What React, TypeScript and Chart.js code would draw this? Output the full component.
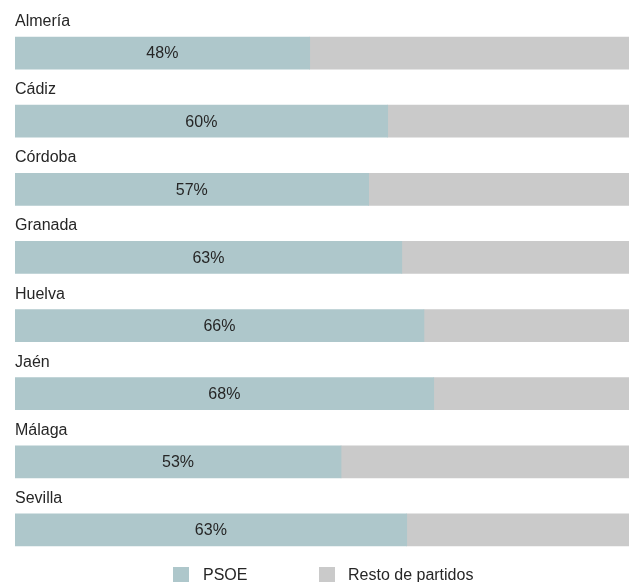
import React, { useEffect, useRef } from "react";
import { Chart, registerables } from "chart.js";

Chart.register(...registerables);

const provinces = ["Almería", "Cádiz", "Córdoba", "Granada", "Huelva", "Jaén", "Málaga", "Sevilla"];
const psoe = [48.0, 60.7, 57.6, 63.0, 66.6, 68.2, 53.1, 63.8];
const resto = psoe.map((v) => 100 - v);
const seriesNames = ["PSOE", "Resto de partidos"];
const seriesColors = ["#aec7cb", "#cacaca"];

const FONT = "16px 'Liberation Sans', Arial, Helvetica, sans-serif";
const TEXT = "#262626";

const labelsPlugin = {
  id: "customLabels",
  afterDatasetsDraw(chart: any) {
    const ctx = chart.ctx;
    const meta0 = chart.getDatasetMeta(0);
    ctx.save();
    ctx.font = FONT;
    ctx.fillStyle = TEXT;
    meta0.data.forEach((bar: any, i: number) => {
      const top = bar.y - bar.height / 2;
      ctx.textAlign = "left";
      ctx.textBaseline = "alphabetic";
      ctx.fillText(provinces[i], chart.chartArea.left, top - 11);
      ctx.textAlign = "center";
      ctx.textBaseline = "middle";
      const cx = (bar.base + bar.x) / 2;
      ctx.fillText(Math.floor(psoe[i]) + "%", cx, bar.y + 1);
    });
    // legend
    const items = [
      { x: 173, tx: 203 },
      { x: 319, tx: 348 },
    ];
    items.forEach((it, k) => {
      ctx.fillStyle = seriesColors[k];
      ctx.fillRect(it.x, 567, 16, 16);
      ctx.fillStyle = TEXT;
      ctx.textAlign = "left";
      ctx.textBaseline = "alphabetic";
      ctx.fillText(seriesNames[k], it.tx, 580);
    });
    ctx.restore();
  },
};

export default function App() {
  const ref = useRef<HTMLCanvasElement | null>(null);
  useEffect(() => {
    document.body.style.margin = "0";
    const chart = new Chart(ref.current as HTMLCanvasElement, {
      type: "bar",
      data: {
        labels: provinces,
        datasets: [
          { label: seriesNames[0], data: psoe, backgroundColor: seriesColors[0], barThickness: 32, borderWidth: 0 },
          { label: seriesNames[1], data: resto, backgroundColor: seriesColors[1], barThickness: 32, borderWidth: 0 },
        ],
      },
      options: {
        indexAxis: "y",
        animation: false,
        responsive: false,
        maintainAspectRatio: false,
        layout: { padding: { left: 15, right: 0, top: 19, bottom: 18 } },
        plugins: { legend: { display: false }, tooltip: { enabled: false } },
        scales: {
          x: { stacked: true, min: 0, max: 100, display: false },
          y: { stacked: true, display: false },
        },
      },
      plugins: [labelsPlugin],
    });
    return () => chart.destroy();
  }, []);
  return (
    <div style={{ width: 629, height: 582 }}>
      <canvas ref={ref} width={629} height={582} style={{ display: "block" }} />
    </div>
  );
}
